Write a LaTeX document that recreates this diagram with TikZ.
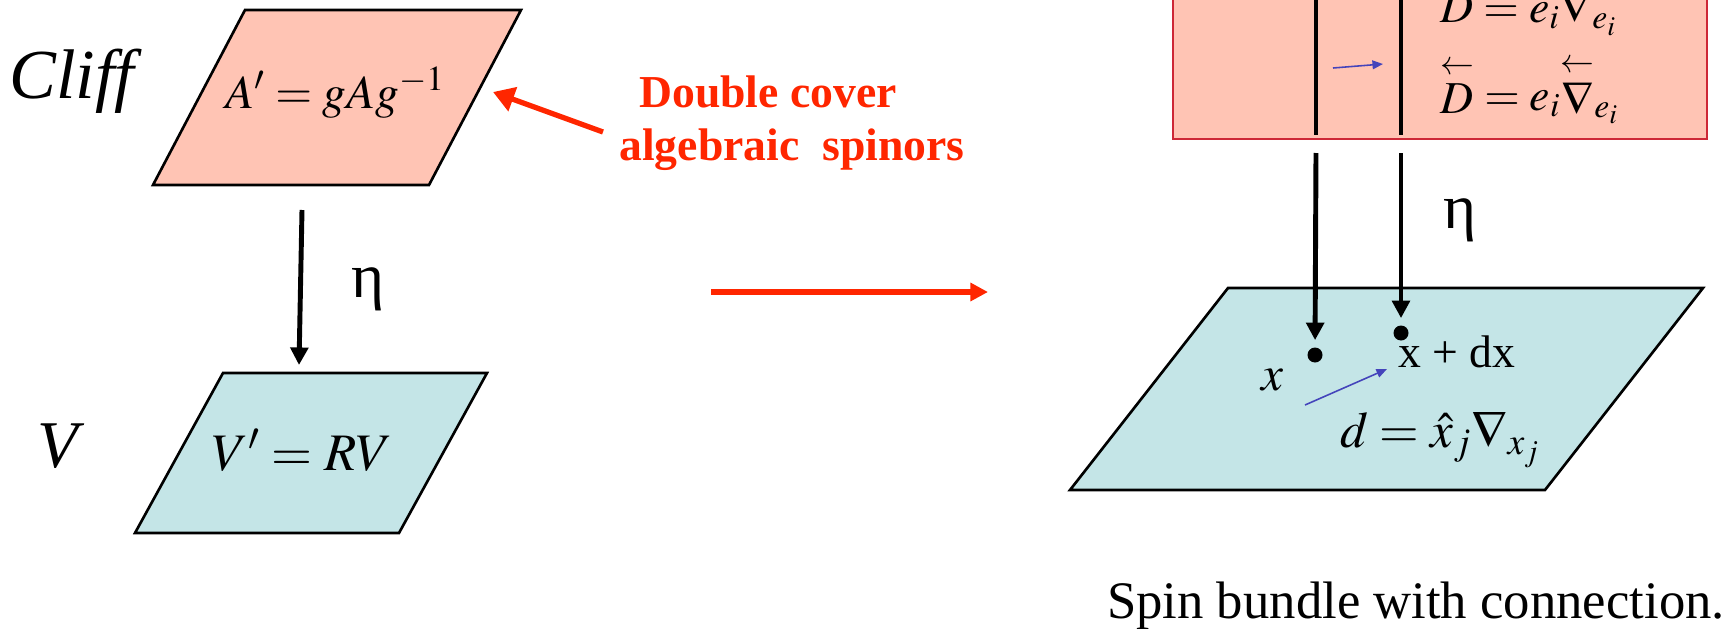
\documentclass[tikz,border=0pt]{standalone}
\usepackage{mathptmx}
\usepackage[no-math]{fontspec}
\setmainfont{Liberation Serif}[BoldFont={Liberation Serif Bold}, ItalicFont={Liberation Serif Italic}]
\usetikzlibrary{arrows.meta, positioning}

\definecolor{cliffpink}{RGB}{255,196,180}
\definecolor{vecblue}{RGB}{196,229,231}
\definecolor{coverred}{RGB}{255,38,0}
\definecolor{bundleedge}{RGB}{205,40,55}
\definecolor{shiftblue}{RGB}{68,68,187}

\newcommand{\bk}[1]{\mathord{\stackrel{\scriptstyle\leftarrow}{#1}}}

\begin{document}
\begin{tikzpicture}[
    x=0.02cm, y=-0.02cm,
    plane/.style={draw=black, line width=1.5pt},
    proj/.style={-{Triangle[length=10pt,width=10pt]}, line width=2.8pt},
    cover/.style={-{Triangle[length=12pt,width=14pt]}, line width=3pt, draw=coverred},
    dshift/.style={-{Triangle[length=6pt,width=5pt]}, line width=0.9pt, draw=shiftblue},
    dot/.style={circle, fill=black, inner sep=0pt, minimum size=0.3cm},
    txt/.style={inner sep=0pt, anchor=base, font=\fontsize{#1}{#1}\selectfont},
    covertxt/.style={inner sep=0pt, anchor=base, text=coverred, font=\fontsize{26}{26}\selectfont\bfseries}
]
    \path[use as bounding box, clip] (0,0) rectangle (1735,629);

    % left: Clifford algebra over V
    \filldraw[plane, fill=cliffpink] (153,185) -- (429,185) -- (521,10) -- (245,10) -- cycle;
    \filldraw[plane, fill=vecblue] (135,533) -- (399,533) -- (487,373) -- (223,373) -- cycle;

    \node[txt=40] (cliff) at (76,98) {\textit{Cliff}};
    \node[txt=38] (vlab) at (61,467) {\textit{V}};
    \node[txt=27] (rotA) at (335,108) {$A' = gAg^{-1}$};
    \node[txt=30] (rotV) at (302,470) {$V' = RV$};
    \node[txt=36] (etaL) at (368,297) {η};

    \coordinate (cliffbot) at (302,210);
    \coordinate (vtop) at (299,365);
    \draw[proj] (cliffbot) -- (vtop);

    \node[covertxt] (covertop) at (768,107) {Double cover};
    \node[covertxt] (coverbot) at (792,160) {algebraic~ spinors};
    \coordinate (covertail) at (603,132);
    \coordinate (coverhead) at (493,92);
    \draw[cover] (covertail) -- (coverhead);

    \coordinate (goL) at (711,292);
    \coordinate (goR) at (988,292);
    \draw[cover, -{Triangle[length=10pt,width=10pt]}] (goL) -- (goR);

    % right: spin bundle
    \filldraw[fill=cliffpink, draw=bundleedge, line width=1.1pt] (1173,-20) rectangle (1707,139);
    \draw[line width=2.8pt] (1316,-20) -- (1316,135);
    \draw[line width=2.8pt] (1401,-20) -- (1401,135);
    \coordinate (fibL) at (1333,68);
    \coordinate (fibR) at (1383,64);
    \draw[dshift] (fibL) -- (fibR);
    \node[txt=26, anchor=base west] (Dfwd) at (1440,22) {$D = e_i\nabla_{e_i}$};
    \node[txt=26, anchor=base west] (Dbwd) at (1440,110) {$\bk{D} = e_i\bk{\nabla}_{e_i}$};

    \filldraw[plane, fill=vecblue] (1070,490) -- (1545,490) -- (1703,288) -- (1228,288) -- cycle;

    \node[dot] (xpt) at (1315,355) {};
    \node[dot] (dxpt) at (1401,333) {};
    \coordinate (fibLbot) at (1316,153);
    \coordinate (fibRbot) at (1401,153);
    \draw[proj, shorten >=4pt] (fibLbot) -- (xpt);
    \draw[proj, shorten >=4pt] (fibRbot) -- (dxpt);
    \node[txt=36] (etaR) at (1460,228) {η};

    \node[txt=28] (xlab) at (1272,390) {$x$};
    \node[txt=26, anchor=base west] (xdx) at (1398,367) {x + dx};
    \coordinate (baseL) at (1305,405);
    \coordinate (baseR) at (1387,369);
    \draw[dshift] (baseL) -- (baseR);
    \node[txt=29, anchor=base west] (dform) at (1340,447) {$d = \hat{x}_j\nabla_{x_j}$};

    \node[txt=30] (caption) at (1416,618) {Spin bundle with connection.};
\end{tikzpicture}
\end{document}
